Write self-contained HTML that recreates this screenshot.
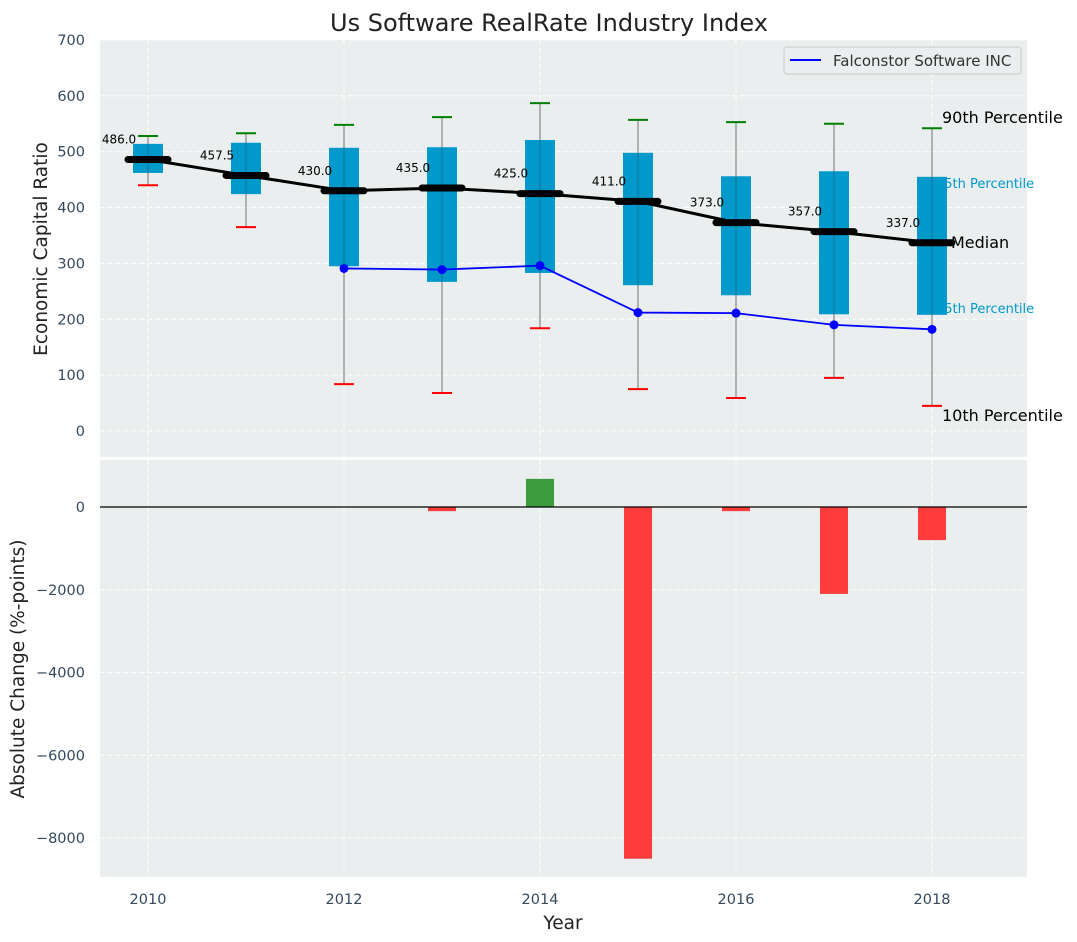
<!DOCTYPE html>
<html><head><meta charset="utf-8">
<style>
body{margin:0;background:#fff;}
svg{display:block;font-family:"DejaVu Sans","Liberation Sans",sans-serif;}
</style></head>
<body>
<svg id="chart" width="1077" height="942" viewBox="0 0 1077 942">
<text x="549" y="31" text-anchor="middle" font-size="24" fill="#222">Us Software RealRate Industry Index</text>
<rect x="100" y="40" width="927" height="417" fill="#eaeeee"/>
<rect x="100" y="460" width="927" height="417" fill="#eaeeee"/>
<g id="grid"></g>
<g id="top"></g>
<g id="bottom"></g>
<text transform="translate(47,249) rotate(-90)" text-anchor="middle" font-size="18.5" fill="#222">Economic Capital Ratio</text>
<text transform="translate(24,669) rotate(-90)" text-anchor="middle" font-size="18.5" fill="#222">Absolute Change (%-points)</text>
<text x="563" y="929" text-anchor="middle" font-size="18.5" fill="#222">Year</text>
<g>
<rect x="784" y="47" width="237" height="27" rx="3" fill="#eaeeee" stroke="#ccc"/>
<line x1="790" y1="60" x2="821" y2="60" stroke="#0000ff" stroke-width="2"/>
<text x="833" y="66" font-size="15" fill="#333">Falconstor Software INC</text>
</g>
</svg>
<script>
const years=[2010,2011,2012,2013,2014,2015,2016,2017,2018];
const p90=[528,533,548,562,587,557,553,550,542];
const p75=[514,516,507,508,521,498,456,465,455];
const medians=[486,457.5,430,435,425,411,373,357,337];
const p25=[462,424,295,267,283,261,243,209,208];
const p10=[440,365,84,68,184,75,59,95,45];
const companyYears=[2012,2013,2014,2015,2016,2017,2018];
const companyValues=[291,289,296,212,211,190,182];
const changeYears=[2013,2014,2015,2016,2017,2018];
const changeValues=[-100,680,-8500,-100,-2100,-800];
const topTicks=[0,100,200,300,400,500,600,700];
const bottomTicks=[0,-2000,-4000,-6000,-8000];
const xTicks=[2010,2012,2014,2016,2018];

const NS="http://www.w3.org/2000/svg";
const X=y=>148+(y-2010)*98;
const YT=v=>431-v*0.5586;
const YB=v=>507-v*0.041375;
function mk(tag,attrs,parent,text){const e=document.createElementNS(NS,tag);for(const k in attrs)e.setAttribute(k,attrs[k]);if(text!==undefined)e.textContent=text;document.getElementById(parent).appendChild(e);return e;}

topTicks.forEach(t=>{
 const l=mk('line',{x1:100,x2:1027,y1:YT(t),y2:YT(t),stroke:'#fff','stroke-dasharray':'5,3','stroke-width':1},'grid');
 
 
 const tx=mk('text',{x:85,y:YT(t)+5,'text-anchor':'end','font-size':14.5,fill:'#34495e'},'grid',t);
 
 
});
bottomTicks.forEach(t=>{
 const l=mk('line',{x1:100,x2:1027,y1:YB(t),y2:YB(t),stroke:'#fff','stroke-dasharray':'5,3','stroke-width':1},'grid');
 
 
 const tx=mk('text',{x:85,y:YB(t)+5,'text-anchor':'end','font-size':14.5,fill:'#34495e'},'grid',t<0?'\u2212'+(-t):t);
 
 
});
xTicks.forEach(t=>{
 ['top','bot'].forEach(p=>{
  const l=mk('line',{x1:X(t),x2:X(t),y1:p=='top'?40:460,y2:p=='top'?457:877,stroke:'#fff','stroke-dasharray':'5,3'},'grid');
  
  
 });
 const tx=mk('text',{x:X(t),y:904,'text-anchor':'middle','font-size':14.5,fill:'#34495e'},'grid',t);
 
 
});

const last=years.length-1, lx=X(years[last])+10;
[[p75[last],11,'75th Percentile'],[p25[last],-2,'25th Percentile']].forEach(([v,dy,s])=>{
 const t=mk('text',{x:lx-6,y:YT(v)+dy,'font-size':13,fill:'#0099cc'},'top',s);
 
 
});
years.forEach((y,i)=>{
 const x=X(y);
 const w=mk('line',{x1:x,x2:x,y1:YT(p90[i]),y2:YT(p10[i]),stroke:'#888','stroke-width':1.2},'top');
 
 
 const b=mk('rect',{x:x-15,y:YT(p75[i]),width:30,height:YT(p25[i])-YT(p75[i]),fill:'#0099cc'},'top');
 
 
 const c=mk('line',{x1:x,x2:x,y1:YT(p75[i]),y2:YT(p25[i]),stroke:'#335566','stroke-width':1,opacity:0.6},'top');
 
 
 const h=mk('line',{x1:x-10,x2:x+10,y1:YT(p90[i]),y2:YT(p90[i]),stroke:'green','stroke-width':2},'top');
 
 
 const lo=mk('line',{x1:x-10,x2:x+10,y1:YT(p10[i]),y2:YT(p10[i]),stroke:'red','stroke-width':2},'top');
 
 
});
const mline=mk('polyline',{points:years.map((y,i)=>X(y)+','+YT(medians[i])).join(' '),fill:'none',stroke:'#000','stroke-width':3},'top');


years.forEach((y,i)=>{
 const x=X(y);
 const m=mk('line',{x1:x-20,x2:x+20,y1:YT(medians[i]),y2:YT(medians[i]),stroke:'#000','stroke-width':7,'stroke-linecap':'round'},'top');
 
 
 const t=mk('text',{x:x-29,y:YT(medians[i])-16,'text-anchor':'middle','font-size':12,fill:'#000'},'top',medians[i].toFixed(1));
 
 
});
const cl=mk('polyline',{points:companyYears.map((y,i)=>X(y)+','+YT(companyValues[i])).join(' '),fill:'none',stroke:'#0000ff','stroke-width':1.8},'top');


companyYears.forEach((y,i)=>{
 const p=mk('circle',{cx:X(y),cy:YT(companyValues[i]),r:4.5,fill:'#0000ff'},'top');
 
 
});
[[p90[last],-5,'90th Percentile'],[medians[last],5,'Median'],[p10[last],15,'10th Percentile']].forEach(([v,dy,s])=>{
 const t=mk('text',{x:s=='Median'?lx+9:lx,y:YT(v)+dy,'font-size':16,fill:'#000'},'top',s);
 
 
});

changeYears.forEach((y,i)=>{
 const v=changeValues[i];
 const r=mk('rect',{x:X(y)-14,y:Math.min(YB(v),YB(0)),width:28,height:Math.abs(YB(v)-YB(0)),fill:v>=0?'#3a9c3a':'#ff3c3c'},'bottom');
 
 
});
const z=mk('line',{x1:100,x2:1027,y1:YB(0),y2:YB(0),stroke:'#000','stroke-width':1.2},'bottom');


</script>
</body></html>
